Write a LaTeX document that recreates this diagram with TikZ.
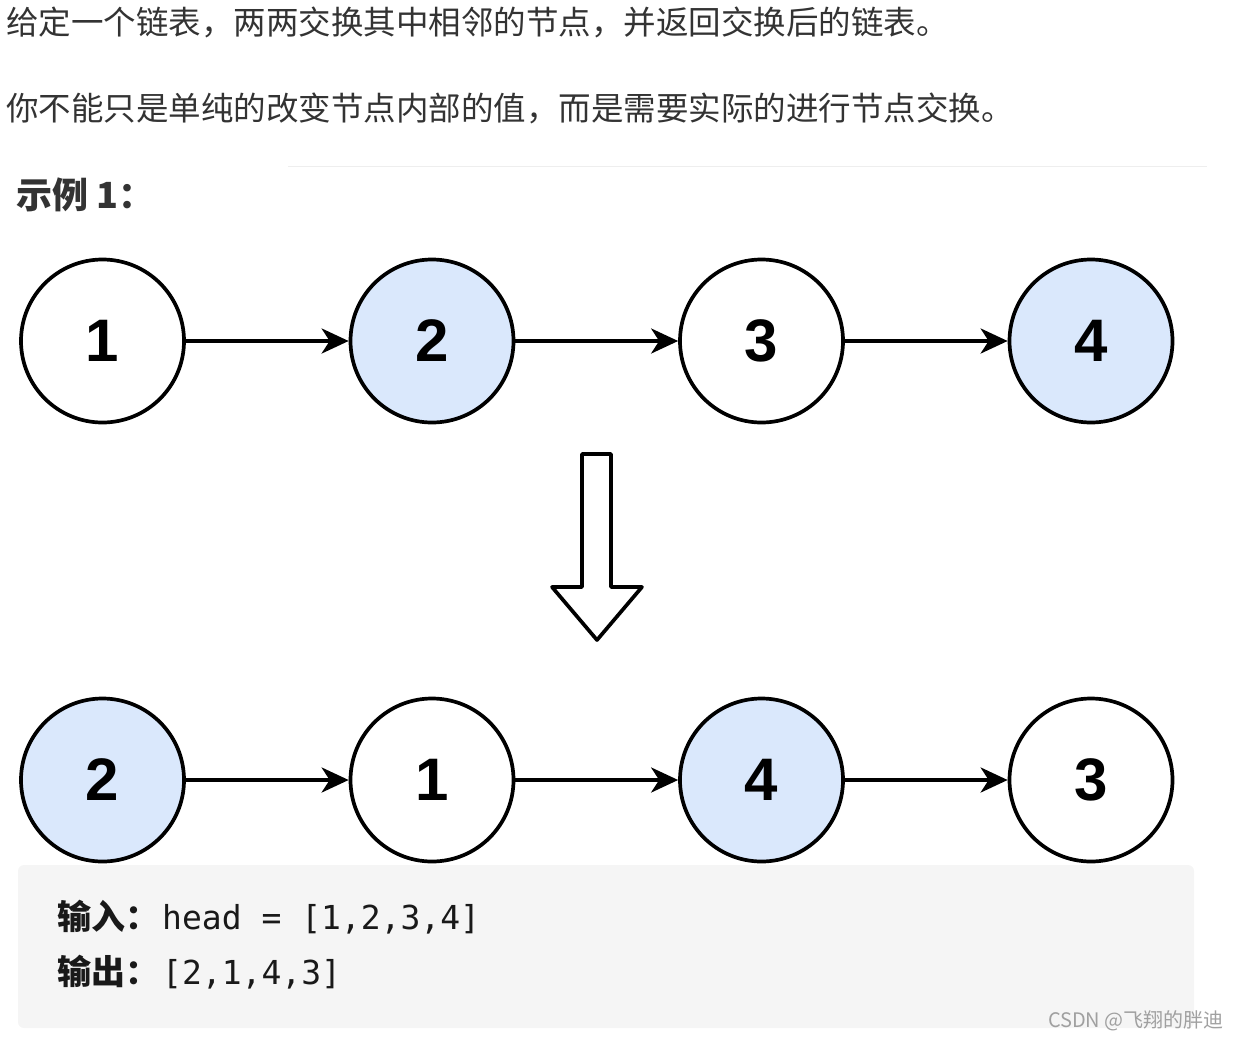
\documentclass[tikz,border=0pt]{standalone}
\usepackage{fontspec}
\setmainfont{Liberation Sans}
\setmonofont{DejaVu Sans Mono}
\newfontfamily\cjk{Noto Sans CJK SC}
\usetikzlibrary{arrows.meta}
\definecolor{nodeblue}{HTML}{DAE8FC}
\definecolor{textgray}{HTML}{333333}
\definecolor{codebg}{HTML}{F5F5F5}
\definecolor{rulegray}{HTML}{EEEEEE}
\definecolor{markgray}{HTML}{A0A0A0}
\begin{document}
\begin{tikzpicture}[x=1pt, y=-1pt, line join=round, >={Stealth[length=27pt,width=25pt,inset=8pt]},
  ring/.style={circle, draw=black, line width=3.7pt, minimum size=163pt, inner sep=0pt, font=\fontsize{60}{60}\selectfont\bfseries},
  link/.style={->, line width=3.7pt},
  para/.style={anchor=west, inner sep=0pt, text=textgray, font=\cjk\fontsize{32.5}{38}\selectfont},
  code/.style={anchor=west, inner sep=0pt, text=black!90, font=\fontsize{33}{38}\selectfont}]
\def \dx{329.5};
\def \xa{102.5};
\useasboundingbox (0,0) rectangle (1239,1041);
% statement
\node[para] (line1) at (6,22) {给定一个链表，两两交换其中相邻的节点，并返回交换后的链表。};
\node[para] (line2) at (6,108) {你不能只是单纯的改变节点内部的值，而是需要实际的进行节点交换。};
\draw[rulegray, line width=1pt] (288,166) -- (1207,166);
\node[para, font=\cjk\bfseries\fontsize{36}{40}\selectfont] (example) at (16,195) {示例 1：};

\begin{scope}
\clip (0,240) rectangle (1175,900);
% before
\foreach \i/\v/\c in {1/1/white,2/2/nodeblue,3/3/white,4/4/nodeblue}{\node[ring, fill=\c] (top\i) at ({\xa+(\i-1)*\dx},341) {\v};}
\foreach \i/\j in {1/2,2/3,3/4}{\draw[link] (top\i) -- (top\j);}
% after
\foreach \i/\v/\c in {1/2/nodeblue,2/1/white,3/4/nodeblue,4/3/white}{\node[ring, fill=\c] (bot\i) at ({\xa+(\i-1)*\dx},780) {\v};}
\foreach \i/\j in {1/2,2/3,3/4}{\draw[link] (bot\i) -- (bot\j);}
\end{scope}

% swap arrow
\draw[line width=3.7pt, fill=white] (582,454) -- (611,454) -- (611,587) -- (642,587) -- (597,640) -- (552,587) -- (582,587) -- cycle;

% code block
\fill[codebg, rounded corners=6pt] (18,865) rectangle (1194,1028);
\node[code] (input) at (57,917) {{\cjk\bfseries\fontsize{34}{38}\selectfont 输入：}\hspace{3pt}\ttfamily head = [1,2,3,4]};
\node[code] (output) at (57,972) {{\cjk\bfseries\fontsize{34}{38}\selectfont 输出：}\hspace{3pt}\ttfamily [2,1,4,3]};
\node[anchor=east, inner sep=0pt, text=markgray, font=\cjk\fontsize{20}{24}\selectfont] (mark) at (1224,1021) {CSDN @飞翔的胖迪};
\end{tikzpicture}
\end{document}
